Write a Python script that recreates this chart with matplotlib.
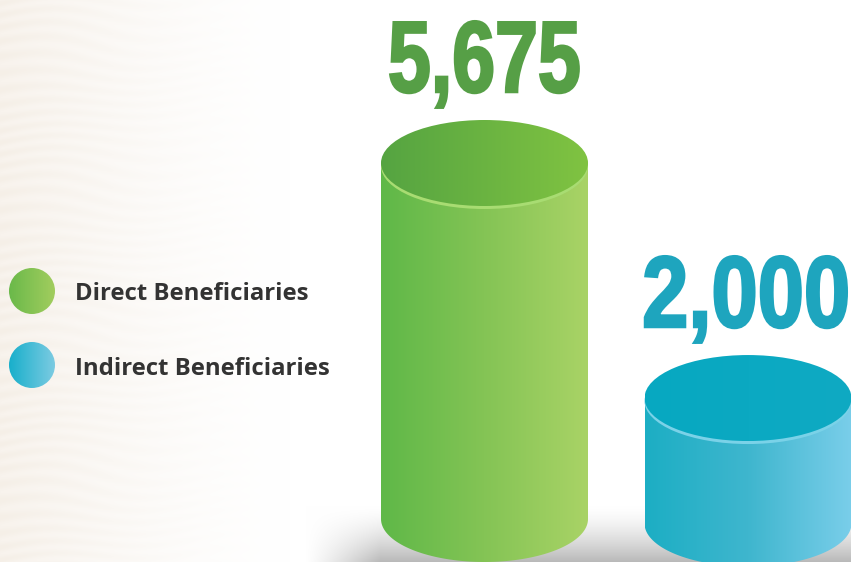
import matplotlib
matplotlib.use("Agg")
import matplotlib.pyplot as plt
import matplotlib.patheffects as pe
from matplotlib.colors import LinearSegmentedColormap
from matplotlib.patches import Ellipse, Polygon
from matplotlib.transforms import Affine2D
import numpy as np

categories = ["Direct Beneficiaries", "Indirect Beneficiaries"]
values = [5675, 2000]
labels = ["5,675", "2,000"]

centers = [484.5, 748]
half_width = 103.5
base_offset = [0, 4.5]
text_right = [581, 850]
text_base = [92, 327]
text_squeeze = [0.76, 0.82]
legend_y = [291, 365]
legend_base = [300, 375]

body_cols = [("#5FB848", "#84C455", "#A9D366"), ("#1CAEC4", "#3FB6CE", "#7ACEEA")]
top_cols = [("#55A441", "#80C341"), ("#07A8C1", "#0FAAC3")]
rim_cols = ["#A8DC72", "#7AD2E8"]
text_cols = ["#569F46", "#1EA5BE"]
dot_cols = [("#6AB94A", "#A2CD5E"), ("#18AFCB", "#7CCBE2")]

W, H = 851, 562
base_px = 519
scale = 356 / 5675   # pixels per beneficiary
ry = 43


class Narrow(pe.AbstractPathEffect):
    # no condensed bold installed, so squeeze the glyphs around the right edge
    def __init__(self, x_px, sx, width, color):
        super().__init__()
        self.x_px, self.sx, self.width, self.color = x_px, sx, width, color

    def draw_path(self, renderer, gc, tpath, affine, rgbFace=None):
        squeeze = Affine2D().translate(-self.x_px, 0).scale(self.sx, 1).translate(self.x_px, 0)
        gc0 = renderer.new_gc()
        gc0.copy_properties(gc)
        gc0.set_linewidth(self.width)
        gc0.set_foreground(self.color)
        gc0.set_joinstyle("miter")
        renderer.draw_path(gc0, tpath, affine + squeeze, rgbFace)
        gc0.restore()


fig = plt.figure(figsize=(W / 100, H / 100), dpi=100)
ax = fig.add_axes([0, 0, 1, 1])
ax.axis("off")

# axes x = pixels, y = beneficiaries scaled so the baseline sits at base_px
ymin = -(H - base_px) / scale
ymax = base_px / scale


def to_y(p):
    return (base_px - p) / scale


def hgrad(x0, x1, y0, y1, cols, clip, z):
    cmap = LinearSegmentedColormap.from_list("g", list(cols))
    im = ax.imshow(np.linspace(0, 1, 256).reshape(1, -1), cmap=cmap, aspect="auto",
                   extent=[x0, x1, y0, y1], zorder=z, interpolation="bilinear")
    im.set_clip_path(clip)


# background: faint paper tint on the left fading to white, grey floor shadow
xx, yy = np.meshgrid(np.arange(W), np.arange(H))
fade = np.clip(1 - xx / 290.0, 0, 1) ** 1.4
waves = 0.5 + 0.5 * np.sin(yy / 2.2 + 2.5 * np.sin(xx / 31.0) + 2.0 * np.sin(yy / 23.0 + xx / 70.0))
bg = np.ones((H, W, 3))
tint = np.array([245, 239, 231]) / 255.0
tint2 = np.array([248, 243, 237]) / 255.0
for k in range(3):
    c = tint2[k] + (tint[k] - tint2[k]) * waves
    bg[..., k] = 1 + (c - 1) * fade
floor = np.clip((yy - 505) / 57.0, 0, 1) ** 1.5 * np.clip((xx - 305) / 75.0, 0, 1) ** 1.2
bg = bg * (1 - 0.28 * floor[..., None])
ax.imshow(bg, extent=[0, W, ymin, ymax], aspect="auto", zorder=0, interpolation="bilinear")

# cylinders, height taken from the value
for i, v in enumerate(values):
    cx = centers[i]
    x0, x1 = cx - half_width, cx + half_width
    low = to_y(base_px + base_offset[i])
    top = low + v
    ry_v = ry / scale
    t = np.linspace(np.pi, 2 * np.pi, 80)
    bottom_edge = np.column_stack([cx + half_width * np.cos(t), low + ry_v * np.sin(t)])
    outline = np.vstack([[[x0, top]], bottom_edge, [[x1, top]]])
    body = Polygon(outline, closed=True, transform=ax.transData, fc="none", ec="none")
    ax.add_patch(body)
    hgrad(x0, x1, low - ry_v, top, body_cols[i], body, 2)

    rim = Ellipse((cx, top - 3 / scale), half_width * 2, ry_v * 2, fc=rim_cols[i], ec="none", zorder=3)
    ax.add_patch(rim)
    lid = Ellipse((cx, top), half_width * 2, ry_v * 2, fc="none", ec="none")
    ax.add_patch(lid)
    hgrad(x0, x1, top - ry_v, top + ry_v, top_cols[i], lid, 4)

    ax.text(text_right[i], to_y(text_base[i]), labels[i], color=text_cols[i], fontsize=73, fontweight="bold",
            family="Liberation Sans", ha="right", va="baseline", zorder=5,
            path_effects=[Narrow(text_right[i], text_squeeze[i], 1.8, text_cols[i])])

# legend
for i, name in enumerate(categories):
    yc = to_y(legend_y[i])
    dot = Ellipse((32, yc), 46, 46 / scale, fc="none", ec="none")
    ax.add_patch(dot)
    hgrad(9, 55, yc - 23 / scale, yc + 23 / scale, dot_cols[i], dot, 4)
    ax.text(75, to_y(legend_base[i]), name, color="#333333", fontsize=17.2, fontweight="bold",
            family="Open Sans", ha="left", va="baseline", zorder=5)

ax.set_xlim(0, W)
ax.set_ylim(ymin, ymax)
fig.savefig("out.png", dpi=100)
